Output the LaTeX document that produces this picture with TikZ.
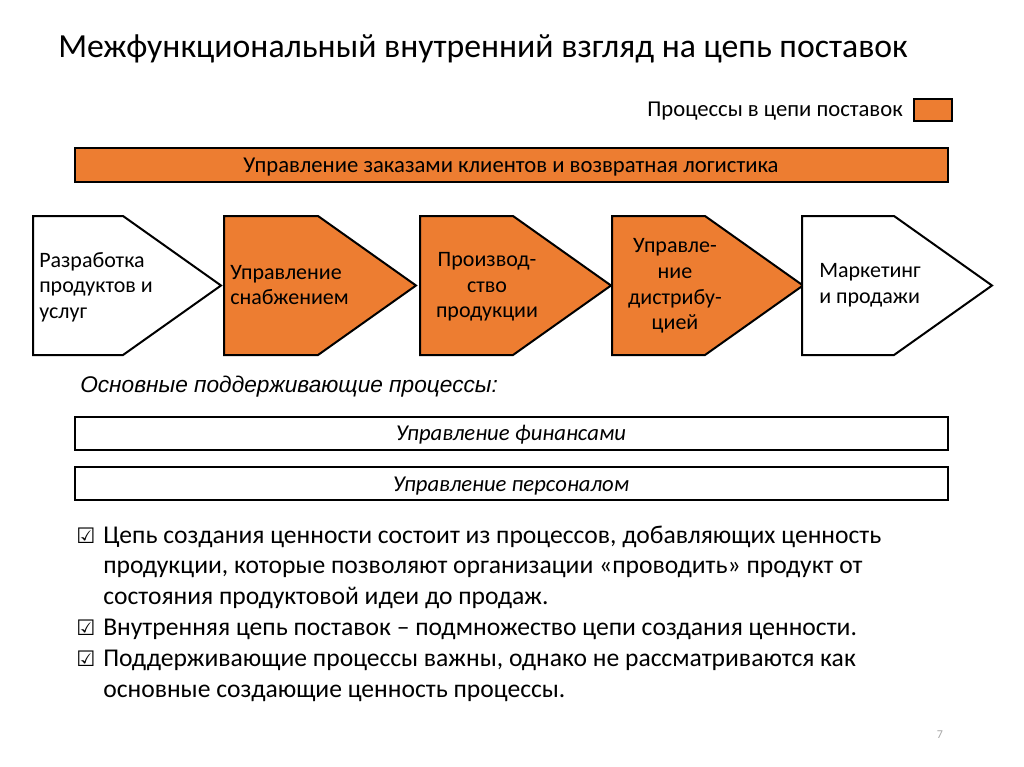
\documentclass[tikz,border=0pt]{standalone}
\usepackage{fontspec}
\setmainfont{Carlito}
\newfontfamily\arialfont{Liberation Sans}
\newfontfamily\symbfont{DejaVu Sans}
\usetikzlibrary{positioning}
\definecolor{orang}{HTML}{ED7D31}
\definecolor{pgnum}{HTML}{A6A6A6}

\tikzset{
    chev/.style={draw=black, line width=1.5pt, line join=miter},
    chevtext/.style={font=\fontsize{16.5}{19.2}\selectfont, align=left, inner sep=0pt},
    supbox/.style={draw=black, line width=2.2pt},
    bullettext/.style={font=\fontsize{19.2}{23}\selectfont, anchor=base west, inner sep=0pt},
    checkmark/.style={font=\symbfont\fontsize{16}{18}\selectfont, anchor=base west, inner sep=0pt}
}

\begin{document}
\begin{tikzpicture}[x=0.75pt, y=-0.75pt]
                    \useasboundingbox (0,0) rectangle (1024,767);
                    % title and legend
                    \node[anchor=base west, inner sep=0pt, font=\fontsize{25.3}{30}\selectfont] (title) at (58,58) {Межфункциональный внутренний взгляд на цепь поставок};
                    \filldraw[fill=orang, draw=black, line width=1.5pt] (914,99) rectangle (952,121);
                    \node[anchor=base east, inner sep=0pt, font=\fontsize{17}{20}\selectfont] (legend) at (903,117) {Процессы в цепи поставок};
                    % order management bar
                    \filldraw[fill=orang, draw=black, line width=1.6pt] (75,148) rectangle (948,182);
                    \node[anchor=base, inner sep=0pt, font=\fontsize{17}{20}\selectfont] (orders) at (511,172) {Управление заказами клиентов и возвратная логистика};
                    % value chain
                    \draw[chev, fill=white] (33,216) -- ++(90,0) -- ++(98,69.5) -- ++(-98,69.5) -- ++(-90,0) -- cycle;
                    \draw[chev, fill=orang] (224,216) -- ++(94,0) -- ++(98,69.5) -- ++(-98,69.5) -- ++(-94,0) -- cycle;
                    \draw[chev, fill=orang] (420,216) -- ++(93,0) -- ++(98,69.5) -- ++(-98,69.5) -- ++(-93,0) -- cycle;
                    \draw[chev, fill=orang] (612,216) -- ++(93,0) -- ++(98,69.5) -- ++(-98,69.5) -- ++(-93,0) -- cycle;
                    \draw[chev, fill=white] (802,216) -- ++(92,0) -- ++(98,69.5) -- ++(-98,69.5) -- ++(-92,0) -- cycle;
                    \node[chevtext, anchor=west] (develop) at (39,287) {Разработка\\продуктов и\\услуг};
                    \node[chevtext, anchor=west] (supply) at (230,285) {Управление\\снабжением};
                    \node[chevtext, align=center] (produce) at (487,287) {Производ-\\ство\\продукции};
                    \node[chevtext, align=center] (distrib) at (675,286) {Управле-\\ние\\дистрибу-\\цией};
                    \node[chevtext, anchor=west] (market) at (819,285) {Маркетинг\\и продажи};
                    % supporting processes
                    \node[anchor=base west, inner sep=0pt, font=\arialfont\itshape\fontsize{17}{20}\selectfont] (support) at (80,392) {Основные поддерживающие процессы:};
                    \draw[supbox] (75,417) rectangle (948,450);
                    \node[anchor=base, inner sep=0pt, font=\itshape\fontsize{17}{20}\selectfont] (finance) at (511,440) {Управление финансами};
                    \draw[supbox] (75,467) rectangle (948,500);
                    \node[anchor=base, inner sep=0pt, font=\itshape\fontsize{17}{20}\selectfont] (staff) at (511,491) {Управление персоналом};
                    % remarks
                    \node[checkmark] (chk1) at (76,543) {☑};
                    \node[checkmark] (chk2) at (76,635) {☑};
                    \node[checkmark] (chk3) at (76,666) {☑};
                    \node[bullettext] (rem1a) at (103,543) {Цепь создания ценности состоит из процессов, добавляющих ценность};
                    \node[bullettext] (rem1b) at (103,573) {продукции, которые позволяют организации «проводить» продукт от};
                    \node[bullettext] (rem1c) at (103,604) {состояния продуктовой идеи до продаж.};
                    \node[bullettext] (rem2) at (103,635) {Внутренняя цепь поставок – подмножество цепи создания ценности.};
                    \node[bullettext] (rem3a) at (103,666) {Поддерживающие процессы важны, однако не рассматриваются как};
                    \node[bullettext] (rem3b) at (103,697) {основные создающие ценность процессы.};
                    \node[anchor=base, inner sep=0pt, text=pgnum, font=\fontsize{9}{10}\selectfont] (page) at (940,738) {7};
                \end{tikzpicture}
\end{document}
